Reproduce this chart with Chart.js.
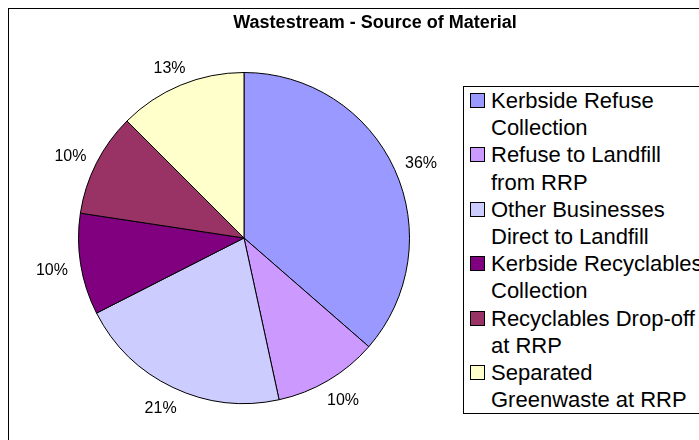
<!DOCTYPE html>
<html>
<head>
<meta charset="utf-8">
<script src="https://cdn.jsdelivr.net/npm/chart.js@4/dist/chart.umd.min.js"></script>
<style>
  html, body { margin: 0; padding: 0; background: #fff; }
  body { width: 699px; height: 440px; overflow: hidden; position: relative; font-family: "Liberation Sans", Arial, sans-serif; }
  #frame { position: absolute; left: 8px; top: 8px; width: 760px; height: 500px; border: 1px solid #000; box-sizing: border-box; }
  #title { position: absolute; left: 175px; width: 400px; top: 11px; text-align: center; font-weight: bold; font-size: 18px; line-height: 22px; color: #000; white-space: nowrap; }
  #pieWrap { position: absolute; left: 0; top: 0; width: 699px; height: 440px; }
  #legend { position: absolute; left: 463px; top: 86px; width: 300px; height: 328px; border: 1px solid #000; box-sizing: border-box; background: #fff; }
  .item { position: relative; padding-left: 27px; font-size: 22px; line-height: 27.2px; color: #000; white-space: nowrap; }
  .sw { position: absolute; left: 6px; top: 6px; width: 13px; height: 13px; border: 1px solid #000; }
</style>
</head>
<body>
<div id="frame"></div>
<div id="pieWrap"><canvas id="c" width="699" height="440"></canvas></div>
<div id="title"></div>
<div id="legend"></div>
<script>
const chartTitle = "Wastestream - Source of Material";
const categories = [
  ["Kerbside Refuse", "Collection"],
  ["Refuse to Landfill", "from RRP"],
  ["Other Businesses", "Direct to Landfill"],
  ["Kerbside Recyclables", "Collection"],
  ["Recyclables Drop-off", "at RRP"],
  ["Separated", "Greenwaste at RRP"]
];
const shares = [36.4, 10.2, 20.9, 9.9, 10.1, 12.5];
const sliceColors = ["#9999FF", "#CC99FF", "#CCCCFF", "#800080", "#993366", "#FFFFCC"];

document.getElementById('title').textContent = chartTitle;

const legendEl = document.getElementById('legend');
categories.forEach((lines, i) => {
  const d = document.createElement('div');
  d.className = 'item';
  const sw = document.createElement('span');
  sw.className = 'sw';
  sw.style.background = sliceColors[i];
  d.appendChild(sw);
  lines.forEach((t, k) => {
    if (k > 0) d.appendChild(document.createElement('br'));
    d.appendChild(document.createTextNode(t));
  });
  legendEl.appendChild(d);
});

const pctLabels = {
  id: 'pctLabels',
  afterDatasetsDraw(chart) {
    const ctx = chart.ctx;
    const meta = chart.getDatasetMeta(0);
    const data = chart.data.datasets[0].data;
    const total = data.reduce((a, b) => a + b, 0);
    ctx.save();
    ctx.font = '16px "Liberation Sans", Arial, sans-serif';
    ctx.fillStyle = '#000';
    ctx.textAlign = 'center';
    ctx.textBaseline = 'middle';
    meta.data.forEach((arc, i) => {
      const p = arc.getProps(['x', 'y', 'startAngle', 'endAngle', 'outerRadius'], true);
      const mid = (p.startAngle + p.endAngle) / 2;
      const dx = Math.cos(mid), dy = Math.sin(mid);
      const txt = Math.round(data[i] / total * 100) + '%';
      const w = ctx.measureText(txt).width, h = 16;
      const g = 13;
      const x = p.x + dx * (p.outerRadius + g) + dx * w / 2;
      const y = p.y + dy * (p.outerRadius + g) + dy * h / 2 + 2.5;
      ctx.fillText(txt, x, y);
    });
    ctx.restore();
  }
};

new Chart(document.getElementById('c'), {
  type: 'pie',
  data: {
    labels: categories.map(l => l.join(' ')),
    datasets: [{
      data: shares,
      backgroundColor: sliceColors,
      borderColor: '#000',
      borderWidth: 1
    }]
  },
  options: {
    responsive: false,
    animation: false,
    layout: { padding: { left: 78, right: 289, top: 72, bottom: 36 } },
    plugins: {
      legend: { display: false },
      title: { display: false },
      tooltip: { enabled: false }
    }
  },
  plugins: [pctLabels]
});
</script>
</body>
</html>
